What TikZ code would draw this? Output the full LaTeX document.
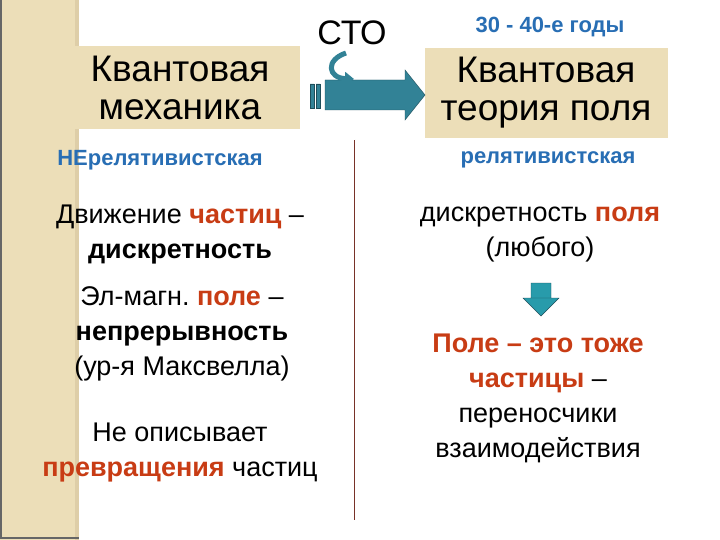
\documentclass[tikz,border=0pt]{standalone}
\usepackage{fontspec}
\setmainfont{Liberation Sans}
\usetikzlibrary{arrows.meta}
\definecolor{tan}{RGB}{236,222,184}
\definecolor{tandark}{RGB}{222,206,168}
\definecolor{lblue}{RGB}{40,110,180}
\definecolor{dred}{RGB}{200,60,20}
\definecolor{teal}{RGB}{50,130,150}
\definecolor{vline}{RGB}{120,50,40}
\frenchspacing
\begin{document}
\begin{tikzpicture}[x=1pt,y=-1pt,
  txt/.style={align=center,font=\fontsize{27}{35}\selectfont,inner sep=0},
  lab/.style={text=lblue,font=\bfseries\fontsize{22}{26}\selectfont,inner sep=0},
  big/.style={fill=tan,align=center,font=\fontsize{37}{38}\selectfont,inner sep=0}]
\useasboundingbox (0,0) rectangle (720,540);
\fill[white] (0,0) rectangle (720,540);
\fill[tan] (0,0) rectangle (79,540);
\fill[tandark] (75,0) rectangle (79,540);
\draw[black!60,line width=1.2] (1,0) -- (1,538) -- (79,538);
\node[big,minimum width=240,minimum height=83] (qm) at (180,88) {Квантовая\\механика};
\node[big,minimum width=243,minimum height=90] (qft) at (546,93) {Квантовая\\теория поля};
\node[inner sep=0,font=\fontsize{34}{36}\selectfont] (sto) at (352,33) {СТО};
\node[lab] (years) at (550,27) {30 - 40-е годы};
% arrow
\fill[teal,draw=teal!60!black] (310,84) rectangle (314,108) (316,84) rectangle (320,108);
\fill[teal,draw=teal!60!black] (325,80) -- (405,80) -- (405,70) -- (425,95) -- (405,120) -- (405,110) -- (325,110) -- cycle;
\draw[teal,line width=5,-{Triangle[length=9,width=13]}] (346,53) .. controls (325,60) and (328,78) .. (354,79);
\draw[vline,double,double distance=1pt,line width=0.6] (355,140) -- (355,520);
\node[lab] (nrel) at (160,160) {НЕрелятивистская};
\node[lab] (rel) at (548,160) {релятивистская};
\node[txt] (t1) at (180,235) {Движение \textcolor{dred}{\bfseries частиц} –\\\bfseries дискретность};
\node[txt] (t2) at (182,334) {Эл-магн. \textcolor{dred}{\bfseries поле} –\\\bfseries непрерывность\\(ур-я Максвелла)};
\node[txt] (t3) at (180,453) {Не описывает\\\textcolor{dred}{\bfseries превращения} частиц};
\node[txt] (t4) at (540,235) {дискретность \textcolor{dred}{\bfseries поля}\\(любого)};
\fill[teal!80!cyan,draw=teal!60!black] (531,283) rectangle (551,298) -- (559,298) -- (541,316) -- (523,298) -- (531,298) -- cycle;
\node[txt] (t5) at (538,398) {\textcolor{dred}{\bfseries Поле – это тоже}\\\textcolor{dred}{\bfseries частицы} –\\переносчики\\взаимодействия};
\end{tikzpicture}
\end{document}
